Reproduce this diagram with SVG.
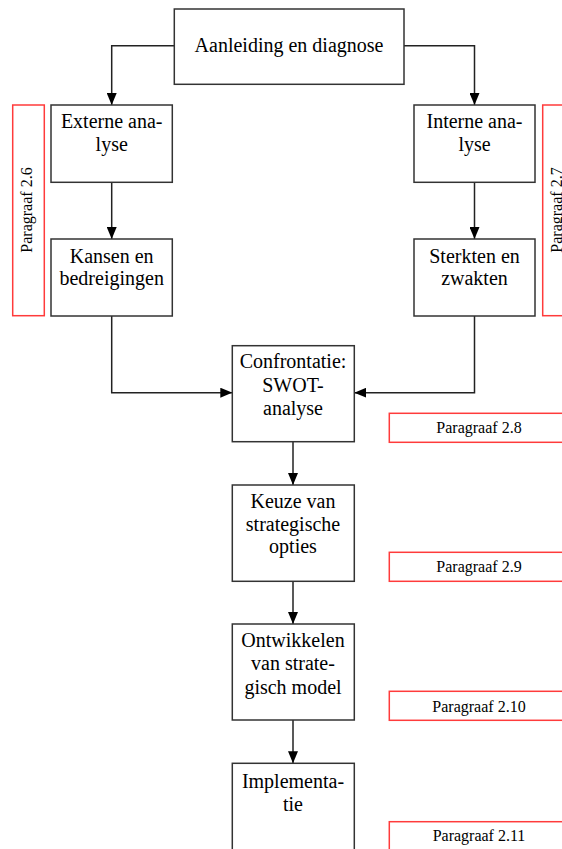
<svg xmlns="http://www.w3.org/2000/svg" width="562" height="849" viewBox="0 0 562 849">
  <style>
    .box { fill: #ffffff; stroke: #333333; stroke-width: 1.5; }
    .ref { fill: #ffffff; stroke: #ff3b3b; stroke-width: 1.5; }
    .lbl { font-family: "Liberation Serif", "Times New Roman", serif; font-size: 20px; fill: #000000; text-anchor: middle; }
    .par { font-family: "Liberation Serif", "Times New Roman", serif; font-size: 16px; fill: #000000; text-anchor: middle; }
    .wire { fill: none; stroke: #222222; stroke-width: 1.5; }
  </style>
  <defs>
    <marker id="arrow" viewBox="0 0 12 10" refX="12" refY="5" markerWidth="12" markerHeight="10" markerUnits="userSpaceOnUse" orient="auto">
      <path d="M0,0 L12,5 L0,10 Z" fill="#000000"/>
    </marker>
  </defs>
  <rect width="562" height="849" fill="#ffffff"/>

  <!-- section references -->
  <g id="ref-2-6">
    <rect class="ref" x="12.7" y="105" width="31.6" height="210.7"/>
    <text class="par" transform="translate(32,210) rotate(-90)">Paragraaf 2.6</text>
  </g>
  <g id="ref-2-7">
    <rect class="ref" x="542.7" y="105" width="31.6" height="210.7"/>
    <text class="par" transform="translate(562,210) rotate(-90)">Paragraaf 2.7</text>
  </g>
  <g id="ref-2-8">
    <rect class="ref" x="389.3" y="413.3" width="185" height="29"/>
    <text class="par" x="479" y="432.7">Paragraaf 2.8</text>
  </g>
  <g id="ref-2-9">
    <rect class="ref" x="389.3" y="552.3" width="185" height="29"/>
    <text class="par" x="479" y="572">Paragraaf 2.9</text>
  </g>
  <g id="ref-2-10">
    <rect class="ref" x="389.3" y="691.3" width="185" height="29"/>
    <text class="par" x="479" y="711.7">Paragraaf 2.10</text>
  </g>
  <g id="ref-2-11">
    <rect class="ref" x="389.3" y="821.7" width="185" height="40"/>
    <text class="par" x="479" y="840.7">Paragraaf 2.11</text>
  </g>

  <!-- connectors -->
  <g id="connectors">
    <path class="wire" d="M174.3,45.7 H111.7 V105" marker-end="url(#arrow)"/>
    <path class="wire" d="M404,45.7 H474.5 V105" marker-end="url(#arrow)"/>
    <path class="wire" d="M111.7,182.3 V239" marker-end="url(#arrow)"/>
    <path class="wire" d="M474.5,182.3 V239" marker-end="url(#arrow)"/>
    <path class="wire" d="M111.7,316 V392.7 H232.3" marker-end="url(#arrow)"/>
    <path class="wire" d="M474.5,316 V392.7 H354.3" marker-end="url(#arrow)"/>
    <path class="wire" d="M293,441.7 V485" marker-end="url(#arrow)"/>
    <path class="wire" d="M293,581.3 V624" marker-end="url(#arrow)"/>
    <path class="wire" d="M293,720 V763.3" marker-end="url(#arrow)"/>
  </g>

  <!-- process steps -->
  <g id="aanleiding">
    <rect class="box" x="174.3" y="9" width="229.7" height="75.3"/>
    <text class="lbl" x="289" y="52">Aanleiding en diagnose</text>
  </g>
  <g id="externe-analyse">
    <rect class="box" x="51" y="105" width="121.3" height="77.3"/>
    <text class="lbl" x="111.7" y="128">Externe ana-</text>
    <text class="lbl" x="111.7" y="151">lyse</text>
  </g>
  <g id="interne-analyse">
    <rect class="box" x="414" y="105" width="121" height="77.3"/>
    <text class="lbl" x="474.5" y="128">Interne ana-</text>
    <text class="lbl" x="474.5" y="151">lyse</text>
  </g>
  <g id="kansen">
    <rect class="box" x="51" y="239" width="121.3" height="77"/>
    <text class="lbl" x="111.7" y="262.5">Kansen en</text>
    <text class="lbl" x="111.7" y="285">bedreigingen</text>
  </g>
  <g id="sterkten">
    <rect class="box" x="414" y="239" width="121" height="77"/>
    <text class="lbl" x="474.5" y="262.5">Sterkten en</text>
    <text class="lbl" x="474.5" y="285">zwakten</text>
  </g>
  <g id="confrontatie">
    <rect class="box" x="232.3" y="345.7" width="122" height="96"/>
    <text class="lbl" x="293" y="367.7">Confrontatie:</text>
    <text class="lbl" x="293" y="391.5">SWOT-</text>
    <text class="lbl" x="293" y="415">analyse</text>
  </g>
  <g id="keuze">
    <rect class="box" x="232.3" y="485" width="122" height="96.3"/>
    <text class="lbl" x="293" y="508.3">Keuze van</text>
    <text class="lbl" x="293" y="530.5">strategische</text>
    <text class="lbl" x="293" y="553.3">opties</text>
  </g>
  <g id="ontwikkelen">
    <rect class="box" x="232.3" y="624" width="122" height="96"/>
    <text class="lbl" x="293" y="647.3">Ontwikkelen</text>
    <text class="lbl" x="293" y="670">van strate-</text>
    <text class="lbl" x="293" y="693.5">gisch model</text>
  </g>
  <g id="implementatie">
    <rect class="box" x="232.3" y="763.3" width="122" height="110"/>
    <text class="lbl" x="293" y="788.3">Implementa-</text>
    <text class="lbl" x="293" y="810.7">tie</text>
  </g>
</svg>
